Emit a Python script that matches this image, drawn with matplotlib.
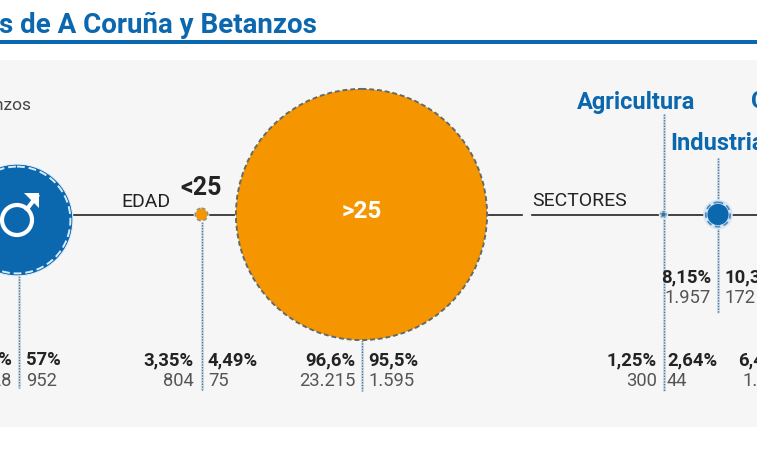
import matplotlib
matplotlib.use("Agg")
import matplotlib.pyplot as plt
from matplotlib.patches import Circle, Rectangle

# Shares and counts, first column and second column of each group
groups = ["hombres", "<25", ">25", "Agricultura", "Industria"]
share_left = [43, 3.35, 96.6, 1.25, 8.15]
share_left_labels = ["43%", "3,35%", "96,6%", "1,25%", "8,15%"]
count_left_labels = ["10.328", "804", "23.215", "300", "1.957"]
share_right_labels = ["57%", "4,49%", "95,5%", "2,64%", "10,35%"]
count_right_labels = ["952", "75", "1.595", "44", "172"]

title = "s de A Coruña y Betanzos"
cut_label = "Betanzos"
next_sector = "Construcción"
next_share = "6,45%"
next_count = "1.548"

BLUE = "#0b67ae"
ORANGE = "#f59600"
DARK = "#232323"
GREY = "#555555"
PANEL = "#f6f6f6"

# circle radius in pixels per point of share
RADIUS_SCALE = 1.3
AXIS_Y = 214.5
MEN_Y = 220

plt.rcParams["font.family"] = "Roboto"

fig = plt.figure(figsize=(7.57, 4.63), dpi=100, facecolor="white")
ax = fig.add_axes([0, 0, 1, 1])
ax.set_xlim(0, 757)
ax.set_ylim(463, 0)
ax.axis("off")


def dotted_line(x, y0, y1):
    ax.plot([x, x], [y0, y1], color="#cfe0ee", lw=2.2, solid_capstyle="butt", zorder=2)
    ax.plot([x, x], [y0, y1], color="#5f7484", lw=1.0, ls=(0, (1, 1)), zorder=3)


def bubble(x, r, color, ring, halo, lw=1.2, gap=2):
    ax.add_patch(Circle((x, AXIS_Y), r + gap + 1, fc=halo, ec="none", zorder=4))
    ax.add_patch(Circle((x, AXIS_Y), r, fc=color, ec="none", zorder=5))
    return Circle((x, AXIS_Y), r + gap * 0.5, fc="none", ec=ring, lw=lw,
                  ls=(0, (3, 2)), zorder=6)


def column_text(x, y, share, count, ha):
    ax.text(x, y, share, ha=ha, va="center", fontsize=13.3, fontweight="bold", color=DARK)
    ax.text(x, y + 21, count, ha=ha, va="center", fontsize=13.2, color=GREY)


# panel and heading
ax.add_patch(Rectangle((0, 60), 757, 367, fc=PANEL, ec="none", zorder=0))
ax.add_patch(Rectangle((0, 40), 757, 4, fc=BLUE, ec="none", zorder=1))
ax.text(-1, 25, title, ha="left", va="center", fontsize=20, fontweight="bold", color=BLUE)
ax.text(32, 105, cut_label, ha="right", va="center", fontsize=12.5, color="#444444")

# axis line
ax.plot([60, 522], [AXIS_Y, AXIS_Y], color=DARK, lw=1.2, zorder=1)
ax.plot([532, 757], [AXIS_Y, AXIS_Y], color=DARK, lw=1.2, zorder=1)
ax.text(146, 202, "EDAD", ha="center", va="center", fontsize=14, color=DARK)
ax.text(580, 201, "SECTORES", ha="center", va="center", fontsize=14, color=DARK)

# guide lines
dotted_line(19, 276, 388)
dotted_line(201.5, 222, 390)
dotted_line(361.5, 340, 391)
dotted_line(663.5, 114, 391)
dotted_line(718, 158, 313)

# bubbles, sized from the first column share
r_men, r_young, r_old, r_agri, r_ind = [v * RADIUS_SCALE for v in share_left]

ax.add_patch(Circle((17, MEN_Y), r_men, fc=BLUE, ec="#e6eff6", lw=0.8, zorder=5))
ax.add_patch(Circle((17, MEN_Y), r_men - 2.5, fc="none", ec="#d8ecfa", lw=1.4,
                    ls=(0, (4, 2)), zorder=6))

ax.add_patch(bubble(201.5, r_young + 1.5, ORANGE, "#8a8a7a", PANEL, lw=1.0, gap=1))

ax.add_patch(Circle((361.5, AXIS_Y), r_old + 1, fc="white", ec="none", zorder=4))
ax.add_patch(Circle((361.5, AXIS_Y), r_old, fc=ORANGE, ec="none", zorder=5))
ax.add_patch(Circle((361.5, AXIS_Y), r_old, fc="none", ec="#5f6b70", lw=1.4,
                    ls=(0, (2.5, 1.5)), zorder=6))

ax.add_patch(bubble(663.5, r_agri + 0.6, "#3f6f92", "#3f6f92", "#d7e6f2", lw=0.5, gap=1.5))
ax.add_patch(bubble(718, r_ind, BLUE, "#4b8cc0", "#d7e6f2", lw=1.3, gap=3.2))

# male symbol
sym_x, sym_y = 17, 220
ax.add_patch(Circle((sym_x, sym_y), 15, fc="none", ec="white", lw=3, zorder=7))
ax.plot([sym_x + 10, 37], [sym_y - 11, 196], color="white", lw=3, zorder=7)
ax.fill([24, 39, 39], [193, 193, 208], color="white", zorder=7, lw=0)

# group names
ax.text(201.5, 188, groups[1], ha="center", va="center", fontsize=18, fontweight="bold", color=DARK, zorder=8)
ax.text(361.5, 212, groups[2], ha="center", va="center", fontsize=17.5, fontweight="bold", color="white", zorder=8)
ax.text(636.5, 102, groups[3], ha="center", va="center", fontsize=17, fontweight="bold", color=BLUE)
ax.text(718, 143, groups[4], ha="center", va="center", fontsize=17, fontweight="bold", color=BLUE, zorder=8)
ax.text(751, 102, next_sector, ha="left", va="center", fontsize=17, fontweight="bold", color=BLUE)

# figures either side of each guide line
left_x = [12, 194, 355, 657, 711]
right_x = [26, 208, 368, 667, 725]
row_y = [360, 360, 360, 360, 277]
for i in range(len(groups)):
    column_text(left_x[i], row_y[i], share_left_labels[i], count_left_labels[i], "right")
    column_text(right_x[i], row_y[i], share_right_labels[i], count_right_labels[i], "left")
column_text(788, 360, next_share, next_count, "right")

fig.savefig("out.png", dpi=100, facecolor="white")
